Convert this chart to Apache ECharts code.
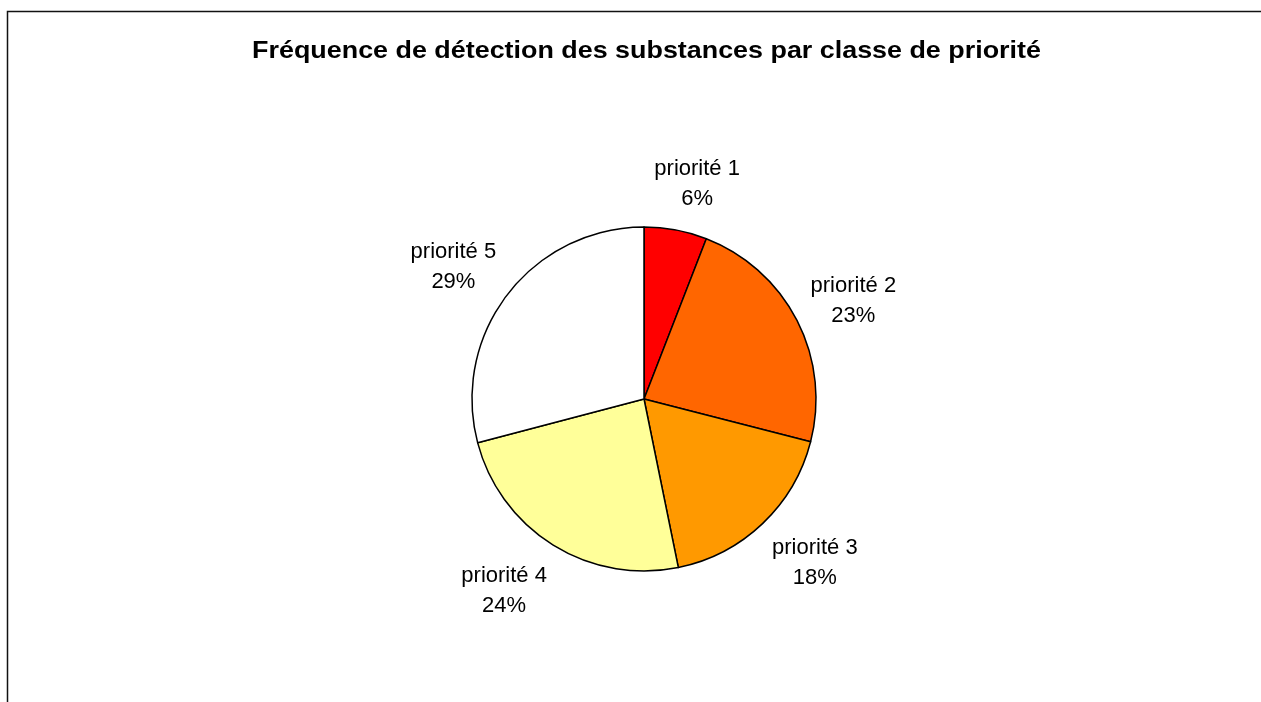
<!DOCTYPE html>
<html>
<head>
<meta charset="utf-8">
<script src="https://cdn.jsdelivr.net/npm/echarts@6/dist/echarts.min.js"></script>
<style>
html,body{margin:0;padding:0;background:#fff;}
#chart{width:1261px;height:702px;}
</style>
</head>
<body>
<div id="chart"></div>
<script>
var titleText = 'Fréquence de détection des substances par classe de priorité';
var categories = ['priorité 1', 'priorité 2', 'priorité 3', 'priorité 4', 'priorité 5'];
var values = [5.9, 23.1, 17.8, 24.1, 29.1];
var colors = ['#FF0000', '#FF6600', '#FF9900', '#FFFF99', '#FFFFFF'];

var CX = 644, CY = 399, R = 172, GAP = 20;
var total = values.reduce(function (a, b) { return a + b; }, 0);
var midAngles = [];
(function () {
  var acc = 0;
  for (var i = 0; i < values.length; i++) {
    midAngles.push((acc + values[i] / 2) / total * 2 * Math.PI);
    acc += values[i];
  }
})();

var chart = echarts.init(document.getElementById('chart'), null, {renderer: 'canvas'});
chart.setOption({
  backgroundColor: '#ffffff',
  animation: false,
  graphic: [{
    type: 'rect',
    shape: {x: 7.5, y: 11.5, width: 1400, height: 900},
    style: {fill: 'none', stroke: '#111', lineWidth: 1.5},
    silent: true
  }, {
    type: 'text',
    x: 646.5,
    y: 51,
    scaleX: 1.12,
    silent: true,
    style: {
      text: titleText,
      fontFamily: 'Liberation Sans, Arial, sans-serif',
      fontSize: 24,
      fontWeight: 'bold',
      fill: '#000',
      align: 'center',
      verticalAlign: 'middle'
    }
  }],
  series: [{
    type: 'pie',
    center: [CX, CY],
    radius: R,
    startAngle: 90,
    clockwise: true,
    avoidLabelOverlap: false,
    data: categories.map(function (c, i) {
      return {name: c, value: values[i], itemStyle: {color: colors[i]}};
    }),
    itemStyle: {borderColor: '#000', borderWidth: 1.5},
    label: {
      show: true,
      position: 'outside',
      formatter: function (p) { return p.name + '\n' + Math.round(p.percent) + '%'; },
      fontFamily: 'Liberation Sans, Arial, sans-serif',
      fontSize: 22,
      lineHeight: 30,
      color: '#000',
      align: 'center'
    },
    labelLine: {show: false},
    labelLayout: function (p) {
      var a = midAngles[p.dataIndex];
      var s = Math.sin(a), c = Math.cos(a);
      var w = p.labelRect.width, h = p.labelRect.height;
      var kx = Math.max(-1, Math.min(1, 2.5 * s)) * 0.9;
      return {
        x: CX + (R + GAP) * s + kx * w / 2,
        y: CY - (R + GAP) * c - c * h / 2 + 3,
        align: 'center',
        verticalAlign: 'middle'
      };
    },
    emphasis: {disabled: true}
  }]
});
</script>
</body>
</html>
